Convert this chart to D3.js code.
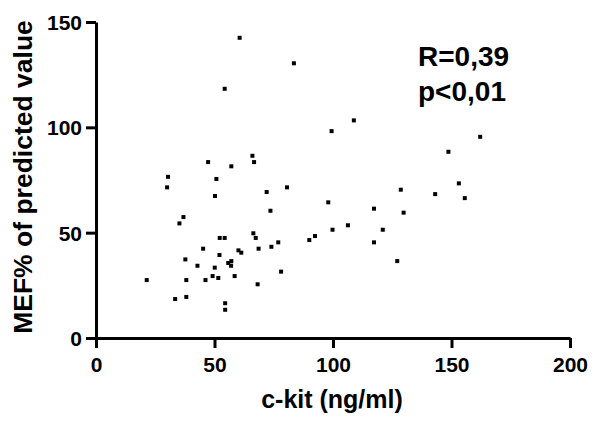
<!DOCTYPE html>
<html>
<head>
<meta charset="utf-8">
<script src="https://cdn.jsdelivr.net/npm/d3@7"></script>
<style>
  body { margin: 0; background: #fff; }
  text { font-family: "Liberation Sans", Arial, sans-serif; font-weight: bold; fill: #000; }
</style>
</head>
<body>
<div id="chart"></div>
<script>
// 資料：c-kit (ng/ml) 與 MEF% of predicted value
const ckit = [60.6, 54.3, 83.5, 108.8, 99.4, 162.1, 148.7, 66.0, 66.7, 47.3,
  57.1, 30.4, 50.8, 30.0, 50.2, 36.9, 35.2, 66.4, 67.4, 52.2,
  54.3, 68.6, 45.2, 60.1, 61.3, 52.1, 37.7, 42.8, 50.1, 55.8,
  57.1, 57.0, 58.5, 49.2, 51.6, 46.2, 38.1, 21.4, 68.2, 33.4,
  38.1, 54.5, 54.5, 72.0, 80.6, 73.6, 98.0, 117.3, 128.6, 129.8,
  74.0, 76.9, 90.0, 92.4, 99.8, 106.3, 121.0, 117.3, 127.1, 78.1,
  153.1, 143.1, 155.6];
const mef = [142.5, 118.3, 130.4, 103.3, 98.2, 95.5, 88.4, 86.5, 83.5, 83.5,
  81.5, 76.5, 75.5, 71.5, 67.4, 57.4, 54.4, 49.7, 47.5, 47.5,
  47.5, 42.4, 42.4, 41.6, 40.5, 39.4, 37.3, 34.3, 33.4, 35.6,
  36.5, 34.3, 29.4, 29.4, 28.5, 27.5, 27.5, 27.5, 25.5, 18.5,
  19.5, 16.5, 13.4, 69.3, 71.5, 60.4, 64.4, 61.4, 70.4, 59.5,
  43.3, 45.4, 46.5, 48.4, 51.4, 53.5, 51.4, 45.4, 36.5, 31.5,
  73.4, 68.3, 66.4];
const xTicks = [0, 50, 100, 150, 200];
const yTicks = [0, 50, 100, 150];
const statLines = ["R=0,39", "p<0,01"];

const width = 600, height = 421;
const svg = d3.select("#chart").append("svg")
  .attr("width", width).attr("height", height);

const x = d3.scaleLinear().domain([0, 200]).range([96, 570]);
const y = d3.scaleLinear().domain([0, 150]).range([338, 22]);

// 軸
const xAxis = svg.append("g")
  .attr("transform", `translate(0,${y(0)})`)
  .call(d3.axisBottom(x).tickValues(xTicks).tickSize(10).tickPadding(8).tickSizeOuter(0));
const yAxis = svg.append("g")
  .attr("transform", `translate(${x(0)},0)`)
  .call(d3.axisLeft(y).tickValues(yTicks).tickSize(10).tickPadding(4).tickSizeOuter(0));

[xAxis, yAxis].forEach(g => {
  g.select(".domain").attr("stroke", "#000").attr("stroke-width", 3);
  g.selectAll(".tick line").attr("stroke", "#000").attr("stroke-width", 3);
  g.selectAll(".tick text")
    .style("font-family", "'Liberation Sans', Arial, sans-serif")
    .style("font-weight", "bold")
    .style("font-size", "21px")
    .attr("fill", "#000");
});
xAxis.selectAll(".tick text").attr("dy", "0.75em");
yAxis.selectAll(".tick text").attr("dy", "0.36em");

// 點
svg.append("g")
  .selectAll("rect")
  .data(d3.range(ckit.length))
  .join("rect")
  .attr("x", i => x(ckit[i]) - 2)
  .attr("y", i => y(mef[i]) - 2)
  .attr("width", 4)
  .attr("height", 4)
  .attr("fill", "#000");

// 標題
svg.append("text")
  .attr("x", 332).attr("y", 408)
  .attr("text-anchor", "middle")
  .style("font-size", "25px")
  .text("c-kit (ng/ml)");

svg.append("text")
  .attr("transform", "translate(32,177) rotate(-90)")
  .attr("text-anchor", "middle")
  .style("font-size", "26.5px")
  .text("MEF% of predicted value");

// 統計文字
svg.append("g")
  .selectAll("text")
  .data(statLines)
  .join("text")
  .attr("x", 418)
  .attr("y", (d, i) => 66 + i * 35)
  .style("font-size", "28px")
  .text(d => d);
</script>
</body>
</html>
